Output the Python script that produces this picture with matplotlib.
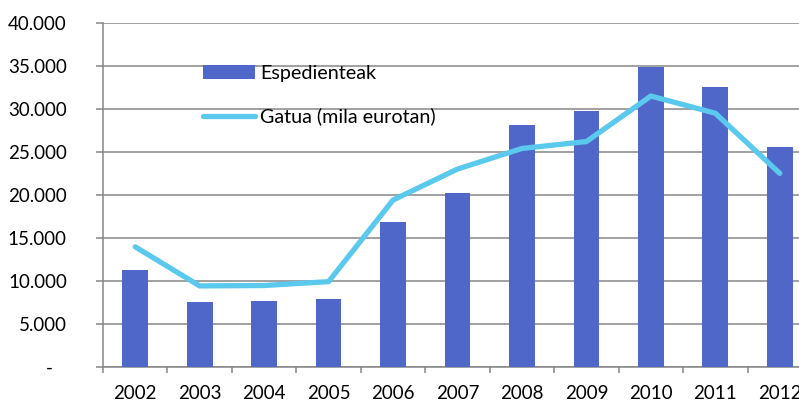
### recreate bar + line chart: Espedienteak and Gatua
import numpy as np
import matplotlib.pyplot as plt
from matplotlib.ticker import FixedLocator, FuncFormatter

# data
years = ['2002', '2003', '2004', '2005', '2006', '2007', '2008', '2009', '2010', '2011', '2012']
espedienteak = [11250, 7500, 7600, 7900, 16800, 20250, 28150, 29750, 34900, 32600, 25600]
gatua = [13950, 9400, 9450, 9900, 19400, 23000, 25400, 26200, 31500, 29500, 22500]

plt.rcParams['font.family'] = ['Lato', 'DejaVu Sans']

fig = plt.figure(figsize=(7.99, 4.03), dpi=100)
# plot area runs past the right edge of the picture, like the reference
ax = fig.add_axes([103/799, 1 - 366.7/403, 709/799, 343.7/403])

x = np.arange(len(years))
bars = ax.bar(x, espedienteak, width=0.4, color='#4F67C8', label='Espedienteak', zorder=3)
line, = ax.plot(x, gatua, color='#5BC8EE', lw=3.8, solid_capstyle='round',
                solid_joinstyle='round', label='Gatua (mila eurotan)', zorder=4)

ax.set_xlim(-0.5, len(years) - 0.5)
ax.set_ylim(0, 40000)

# y axis: 5.000 steps, dot as thousand separator, dash for zero
ax.set_yticks(np.arange(0, 40001, 5000))
def fmt(v, pos):
    if v == 0:
        return '-   '
    return f'{int(v):,}'.replace(',', '.')
ax.yaxis.set_major_formatter(FuncFormatter(fmt))
ax.grid(axis='y', color='#868686', lw=1.1, zorder=0)

# x axis: labels centred, tick marks between categories
ax.set_xticks(x)
ax.set_xticklabels(years)
ax.xaxis.set_minor_locator(FixedLocator(np.arange(-0.5, len(years), 1)))
ax.tick_params(axis='x', which='major', length=0, pad=13, labelsize=13.5)
ax.tick_params(axis='x', which='minor', length=4.5, width=1.1, color='#868686')
ax.tick_params(axis='y', length=5, width=1.1, color='#868686', pad=21, labelsize=13.5)

for side in ['top', 'right']:
    ax.spines[side].set_visible(False)
for side in ['left', 'bottom']:
    ax.spines[side].set_color('#868686')
    ax.spines[side].set_linewidth(1.1)

ax.legend([bars, line], ['Espedienteak', 'Gatua (mila eurotan)'],
          loc='upper left', bbox_to_anchor=(0.13, 0.902), frameon=False,
          fontsize=14.2, handlelength=2.65, handletextpad=0.25, labelspacing=1.32,
          borderaxespad=0)

plt.savefig('out.png', format='png', dpi=100)
